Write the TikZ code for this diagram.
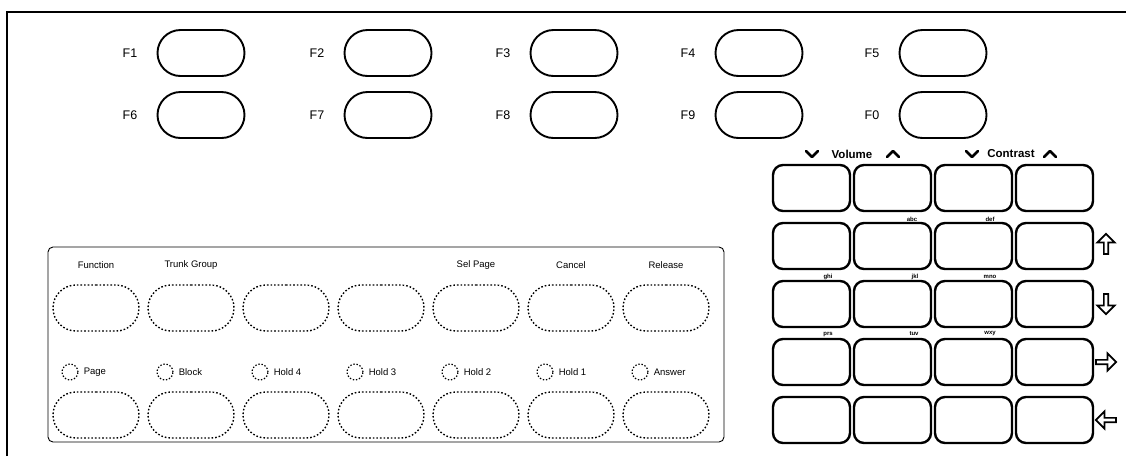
\documentclass[tikz,border=0pt]{standalone}
\usepackage{fontspec}
\setmainfont{Liberation Sans}
\usetikzlibrary{shapes.misc,shapes.arrows}
\begin{document}
\begin{tikzpicture}[x=1pt,y=-1pt,
  fkey/.style={draw, line width=1.9pt, rounded rectangle, minimum width=87pt, minimum height=46pt, inner sep=0pt},
  flabel/.style={font=\fontsize{12.5}{15}\selectfont, inner sep=0pt},
  gkey/.style={draw, rectangle, line width=2.4pt, rounded corners=10pt, minimum width=77pt, minimum height=46pt, inner sep=0pt},
  pkey/.style={draw, line width=1.4pt, dash pattern=on 1.6pt off 2pt, rounded rectangle, minimum width=86pt, minimum height=46pt, inner sep=0pt},
  pcirc/.style={draw, circle, line width=1.2pt, dash pattern=on 1.4pt off 1.8pt, minimum size=16pt, inner sep=0pt},
  plabel/.style={font=\fontsize{9.5}{11}\selectfont, inner sep=0pt},
  sublabel/.style={font=\fontsize{6}{7}\selectfont\bfseries, inner sep=0.5pt},
  toplabel/.style={font=\fontsize{11.5}{13}\selectfont\bfseries, inner sep=0pt},
  chev/.style={line width=2.6pt, line join=round, line cap=round},
  arr/.style={draw, single arrow, line width=1.7pt, minimum height=20pt, minimum width=17pt, single arrow head extend=2.5pt, inner sep=0pt}
]
\useasboundingbox (0,0) rectangle (1126,456);
% outer frame
\draw[line width=1.7pt] (7,456) -- (7,12) -- (1126,12);

% function keys
\foreach \n/\x/\y/\t in {f1/201/53/F1, f2/388/53/F2, f3/574/53/F3, f4/759/53/F4, f5/943/53/F5,
                          f6/201/115/F6, f7/388/115/F7, f8/574/115/F8, f9/759/115/F9, f0/943/115/F0}{
  \node[fkey] (\n) at (\x,\y) {};
  \node[flabel] (\n l) at (\x-71,\y) {\t};
}

% lower panel
\draw[line width=0.9pt, rounded corners=5pt] (48,247) rectangle (724,442);
\foreach \i/\x in {1/96, 2/191, 3/286, 4/381, 5/476, 6/571, 7/666}{
  \node[pkey] (pa\i) at (\x,308) {};
  \node[pkey] (pb\i) at (\x,415) {};
  \node[pcirc] (pc\i) at (\x-26,372) {};
}
\node[plabel] (lfun) at (96,265) {Function};
\node[plabel] (ltrk) at (191,265) {Trunk Group};
\node[plabel] (lsel) at (476,265) {Sel Page};
\node[plabel] (lcan) at (571,265) {Cancel};
\node[plabel] (lrel) at (666,265) {Release};
\foreach \i/\t in {1/Page, 2/Block, 3/Hold 4, 4/Hold 3, 5/Hold 2, 6/Hold 1, 7/Answer}{
  \node[plabel, anchor=west] (lc\i) at ([xshift=5pt]pc\i.east) {\t};
}

% keypad grid
\foreach \r/\y in {1/188, 2/246, 3/304, 4/362, 5/420}{
  \foreach \c/\x in {1/811.5, 2/892.5, 3/973.5, 4/1054.5}{
    \node[gkey] (g\r\c) at (\x,\y) {};
  }
}
% volume / contrast
\node[toplabel] (vol) at (852,154) {Volume};
\node[toplabel] (con) at (1011,154) {Contrast};
\draw[chev] (806,151) -- (812,157) -- (818,151);
\draw[chev] (887,157) -- (893,151) -- (899,157);
\draw[chev] (966,151) -- (972,157) -- (978,151);
\draw[chev] (1044,157) -- (1050,151) -- (1056,157);

% letters
\node[sublabel] (sabc) at (912,219) {abc};
\node[sublabel] (sdef) at (990,219) {def};
\node[sublabel] (sghi) at (828,277) {ghi};
\node[sublabel] (sjkl) at (915,277) {jkl};
\node[sublabel] (smno) at (990,277) {mno};
\node[sublabel] (sprs) at (828,334) {prs};
\node[sublabel] (stuv) at (914,334) {tuv};
\node[sublabel] (swxy) at (990,334) {wxy};

% arrows
\node[arr, rotate=90] (aup) at (1106,245) {};
\node[arr, rotate=-90] (adn) at (1106,303) {};
\node[arr] (art) at (1105,362) {};
\node[arr, rotate=180] (alt) at (1107,420) {};
\end{tikzpicture}
\end{document}
